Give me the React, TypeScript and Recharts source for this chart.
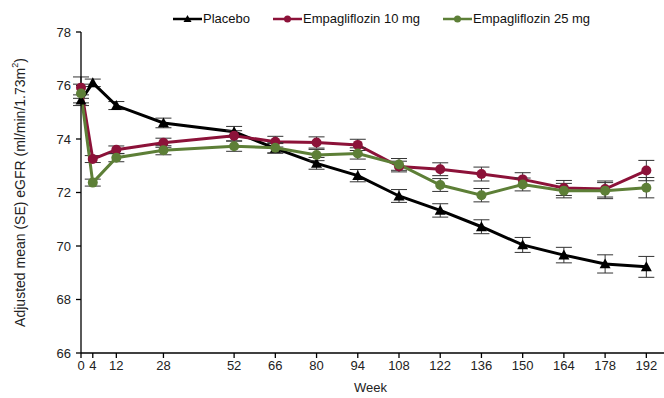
import React from "react";
import {
  LineChart,
  Line,
  XAxis,
  YAxis,
  ErrorBar,
} from "recharts";

const weeks = [0, 4, 12, 28, 52, 66, 80, 94, 108, 122, 136, 150, 164, 178, 192];
const placebo = [75.45, 76.1, 75.25, 74.6, 74.27, 73.65, 73.09, 72.63, 71.87, 71.33, 70.72, 70.04, 69.66, 69.33, 69.22];
const empa10 = [75.92, 73.25, 73.6, 73.86, 74.12, 73.9, 73.87, 73.78, 72.97, 72.87, 72.69, 72.49, 72.17, 72.13, 72.82];
const empa25 = [75.7, 72.37, 73.3, 73.58, 73.73, 73.67, 73.4, 73.46, 73.05, 72.28, 71.9, 72.3, 72.07, 72.07, 72.18];
const placeboSe = [0.2, 0.14, 0.15, 0.18, 0.2, 0.18, 0.22, 0.23, 0.24, 0.25, 0.26, 0.28, 0.29, 0.34, 0.39];
const empa10Se = [0.4, 0.13, 0.14, 0.17, 0.19, 0.2, 0.21, 0.21, 0.2, 0.24, 0.26, 0.25, 0.28, 0.3, 0.38];
const empa25Se = [0.35, 0.13, 0.15, 0.17, 0.19, 0.19, 0.21, 0.21, 0.22, 0.24, 0.25, 0.24, 0.27, 0.3, 0.38];
const yTicks = [66, 68, 70, 72, 74, 76, 78];

const BLACK = "#000000";
const RED = "#8c1239";
const GREEN = "#5d7f37";
const FONT = "'Liberation Sans', Arial, sans-serif";

const data = weeks.map((w, i) => ({
  week: w,
  placebo: placebo[i],
  placeboSe: placeboSe[i],
  empa10: empa10[i],
  empa10Se: empa10Se[i],
  empa25: empa25[i],
  empa25Se: empa25Se[i],
}));

function Triangle(props: any) {
  const { cx, cy } = props;
  if (cx == null || cy == null) return null;
  const s = 5.5;
  return (
    <path
      d={`M${cx},${cy - s} L${cx + s},${cy + s * 0.8} L${cx - s},${cy + s * 0.8} Z`}
      fill={BLACK}
    />
  );
}

function YLabel(props: any) {
  const vb = props.viewBox || {};
  const cy = (vb.y ?? 32) + (vb.height ?? 321) / 2;
  const x = 20;
  return (
    <text
      x={x}
      y={cy}
      transform={`rotate(-90, ${x}, ${cy})`}
      textAnchor="middle"
      dominantBaseline="central"
      fontSize={14}
      fontFamily={FONT}
      fill="#222"
    >
      Adjusted mean (SE) eGFR (ml/min/1.73m
      <tspan fontSize={9} dy={-5}>2</tspan>
      <tspan dy={5}>)</tspan>
    </text>
  );
}

function XLabel(props: any) {
  const vb = props.viewBox || {};
  const cx = (vb.x ?? 81) + (vb.width ?? 583) / 2;
  return (
    <text x={cx - 2} y={392} textAnchor="middle" fontSize={13} fontFamily={FONT} fill="#222">
      Week
    </text>
  );
}

function LegendItem({ left, color, label, tri }: { left: number; color: string; label: string; tri?: boolean }) {
  return (
    <div style={{ position: "absolute", left, top: 11, display: "flex", alignItems: "center", fontFamily: FONT, fontSize: 13, color: "#111" }}>
      <svg width={29} height={14}>
        <line x1={0} y1={7} x2={29} y2={7} stroke={color} strokeWidth={2.5} />
        {tri ? (
          <path d="M14.5,3 L18.5,10 L10.5,10 Z" fill={color} />
        ) : (
          <circle cx={14.5} cy={7} r={3.5} fill={color} />
        )}
      </svg>
      <span style={{ marginLeft: 1 }}>{label}</span>
    </div>
  );
}

export default function App() {
  return (
    <div style={{ position: "absolute", left: 0, top: 0, width: 664, height: 398, overflow: "hidden", background: "#fff" }}>
      <LineChart width={664} height={398} data={data} margin={{ top: 32, right: 0, left: 0, bottom: 0 }}>
        <XAxis
          dataKey="week"
          type="number"
          domain={[0, 198]}
          ticks={weeks}
          interval={0}
          allowDecimals={false}
          height={45}
          stroke={BLACK}
          strokeWidth={1.3}
          tickSize={5}
          tickMargin={3}
          tick={{ fill: "#222", fontSize: 13, fontFamily: FONT }}
          label={<XLabel />}
        />
        <YAxis
          domain={[66, 78]}
          ticks={yTicks}
          interval={0}
          width={81}
          stroke={BLACK}
          strokeWidth={1.3}
          tickSize={5}
          tickMargin={5}
          allowDataOverflow
          tick={{ fill: "#222", fontSize: 13, fontFamily: FONT }}
          label={<YLabel />}
        />
        <Line
          dataKey="placebo"
          stroke={BLACK}
          strokeWidth={3}
          dot={<Triangle />}
          isAnimationActive={false}
        >
          <ErrorBar dataKey="placeboSe" width={8} stroke="#333" strokeWidth={1} direction="y" />
        </Line>
        <Line
          dataKey="empa10"
          stroke={RED}
          strokeWidth={3}
          dot={{ r: 5, fill: RED, stroke: RED, strokeWidth: 0 }}
          isAnimationActive={false}
        >
          <ErrorBar dataKey="empa10Se" width={8} stroke="#333" strokeWidth={1} direction="y" />
        </Line>
        <Line
          dataKey="empa25"
          stroke={GREEN}
          strokeWidth={3}
          dot={{ r: 5, fill: GREEN, stroke: GREEN, strokeWidth: 0 }}
          isAnimationActive={false}
        >
          <ErrorBar dataKey="empa25Se" width={8} stroke="#333" strokeWidth={1} direction="y" />
        </Line>
      </LineChart>
      <LegendItem left={173} color={BLACK} label="Placebo" tri />
      <LegendItem left={273} color={RED} label="Empagliflozin 10 mg" />
      <LegendItem left={443} color={GREEN} label="Empagliflozin 25 mg" />
    </div>
  );
}
